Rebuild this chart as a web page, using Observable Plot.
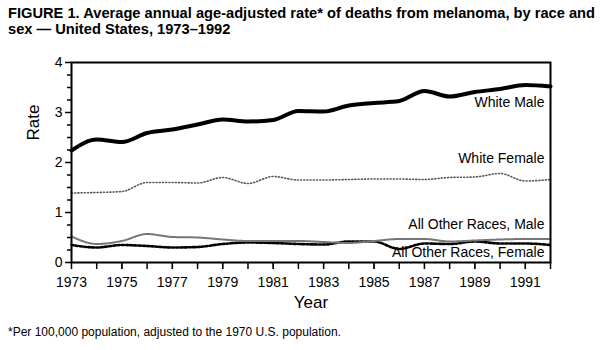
<!DOCTYPE html>
<html>
<head>
<meta charset="utf-8">
<script src="https://cdn.jsdelivr.net/npm/d3@7"></script>
<script src="https://cdn.jsdelivr.net/npm/@observablehq/plot@0.6"></script>
<style>
  html, body { margin: 0; padding: 0; background: #fff; width: 610px; height: 350px; overflow: hidden; }
  #title { font-family: "Liberation Sans", Arial, sans-serif; font-weight: bold; font-size: 15px; line-height: 16px; padding: 5px 0 0 8px; height: 37px; color: #000; }
  #title span { display: block; white-space: nowrap; transform-origin: 0 0; width: max-content; }
  #foot { font-family: "Liberation Sans", Arial, sans-serif; font-size: 12px; padding: 13px 0 0 8px; color: #000; }
  svg { display: block; }
</style>
</head>
<body>
<div id="title"><span id="t1">FIGURE 1. Average annual age-adjusted rate* of deaths from melanoma, by race and</span><span id="t2">sex — United States, 1973–1992</span></div>
<div id="chart"></div>
<div id="foot">*Per 100,000 population, adjusted to the 1970 U.S. population.</div>
<script>
const years = [1973,1974,1975,1976,1977,1978,1979,1980,1981,1982,1983,1984,1985,1986,1987,1988,1989,1990,1991,1992];
const whiteMale   = [2.24,2.46,2.41,2.59,2.66,2.76,2.86,2.82,2.85,3.03,3.02,3.14,3.19,3.23,3.43,3.32,3.41,3.47,3.55,3.52];
const whiteFemale = [1.39,1.40,1.42,1.60,1.60,1.59,1.70,1.58,1.72,1.65,1.65,1.66,1.67,1.67,1.66,1.70,1.71,1.78,1.63,1.66];
const otherMale   = [0.52,0.37,0.43,0.57,0.51,0.50,0.46,0.43,0.43,0.43,0.41,0.39,0.43,0.47,0.47,0.42,0.44,0.46,0.47,0.47];
const otherFemale = [0.35,0.30,0.35,0.33,0.30,0.31,0.37,0.40,0.39,0.37,0.36,0.42,0.42,0.27,0.38,0.37,0.42,0.38,0.38,0.35];
const seriesNames = ["White Male","White Female","All Other Races, Male","All Other Races, Female"];
const xTickLabels = [1973,1975,1977,1979,1981,1983,1985,1987,1989,1991];
const yTickLabels = [0,1,2,3,4];
const yMinorTicks = [0.25,0.5,0.75,1.25,1.5,1.75,2.25,2.5,2.75,3.25,3.5,3.75];

// squeeze the title horizontally to match the condensed face of the original
const t1 = document.getElementById("t1"), t2 = document.getElementById("t2");
const k = Math.min(1, 587 / t1.getBoundingClientRect().width);
t1.style.transform = `scaleX(${k})`;
t2.style.transform = `scaleX(${k})`;

const toRows = (vals) => years.map((y, i) => ({year: y, rate: vals[i]}));
const wm = toRows(whiteMale), wf = toRows(whiteFemale), om = toRows(otherMale), of = toRows(otherFemale);
const last = (rows) => [rows[rows.length - 1]];
const font = "Liberation Sans, Arial, sans-serif";

const chart = Plot.plot({
  width: 610,
  height: 270,
  marginLeft: 71,
  marginRight: 60,
  marginTop: 20,
  marginBottom: 50,
  style: {fontFamily: font, fontSize: "14px", color: "#000", background: "#fff"},
  x: {domain: [1973, 1992]},
  y: {domain: [0, 4]},
  marks: [
    Plot.axisX({ticks: years, tickSize: 7, tickFormat: () => "", label: null, strokeWidth: 1.5}),
    Plot.axisX({ticks: xTickLabels, tickSize: 7, tickPadding: 8, tickFormat: "d", label: null, fontSize: 14}),
    Plot.axisY({ticks: yMinorTicks, tickSize: 4, tickFormat: () => "", label: null, strokeWidth: 1.5}),
    Plot.axisY({ticks: yTickLabels, tickSize: 6, tickPadding: 3, tickFormat: "d", label: null, fontSize: 14, strokeWidth: 1.5}),
    Plot.line(of, {x: "year", y: "rate", stroke: "#000", strokeWidth: 2.6, strokeDasharray: "2.2,2", curve: "monotone-x"}),
    Plot.line(om, {x: "year", y: "rate", stroke: "#777", strokeWidth: 2, strokeDasharray: "1,0.7", curve: "monotone-x"}),
    Plot.line(wf, {x: "year", y: "rate", stroke: "#555", strokeWidth: 1.6, strokeDasharray: "1,2.2", curve: "monotone-x"}),
    Plot.line(wm, {x: "year", y: "rate", stroke: "#000", strokeWidth: 4, curve: "monotone-x"}),
    Plot.frame({stroke: "#000", strokeWidth: 2}),
    Plot.text(last(wm), {x: "year", y: "rate", text: () => seriesNames[0], textAnchor: "end", dx: -6, dy: 16, fontSize: 14, fill: "#000"}),
    Plot.text(last(wf), {x: "year", y: "rate", text: () => seriesNames[1], textAnchor: "end", dx: -6, dy: -21, fontSize: 14, fill: "#000"}),
    Plot.text(last(om), {x: "year", y: "rate", text: () => seriesNames[2], textAnchor: "end", dx: -6, dy: -14, fontSize: 14, fill: "#000"}),
    Plot.text(last(of), {x: "year", y: "rate", text: () => seriesNames[3], textAnchor: "end", dx: -6, dy: 8, fontSize: 14, fill: "#000"}),
    Plot.text(["Year"], {frameAnchor: "bottom", dy: 45, fontSize: 17, fill: "#000"}),
    Plot.text(["Rate"], {frameAnchor: "left", dx: -38, dy: -22, rotate: -90, fontSize: 17, fill: "#000"})
  ]
});
document.getElementById("chart").appendChild(chart);
</script>
</body>
</html>
